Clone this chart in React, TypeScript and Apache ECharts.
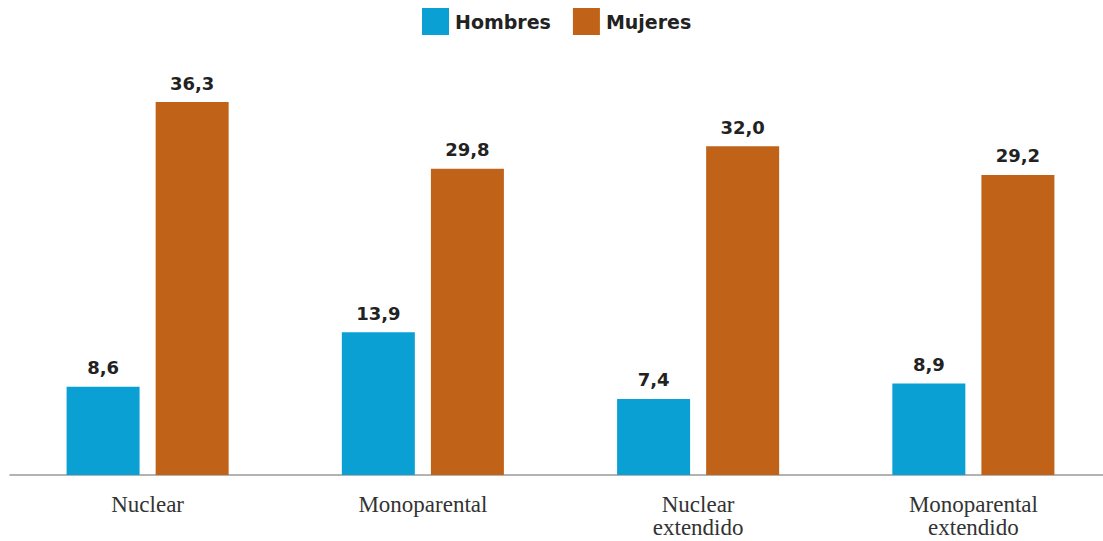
import React, { useEffect, useRef } from "react";
import * as echarts from "echarts";

// Household type categories and percentages by sex
const categories = ["Nuclear", "Monoparental", "Nuclear\nextendido", "Monoparental\nextendido"];
const hombres = [8.6, 13.9, 7.4, 8.9];
const mujeres = [36.3, 29.8, 32.0, 29.2];
const seriesNames = ["Hombres", "Mujeres"];

const BLUE = "#0aa0d3";
const ORANGE = "#c06318";
const SANS = "'DejaVu Sans', 'Noto Sans', sans-serif";
const fmt = (v: number) => v.toFixed(1).replace(".", ",");

export default function App() {
  const ref = useRef<HTMLDivElement>(null);

  useEffect(() => {
    if (!ref.current) return;
    const chart = echarts.init(ref.current, undefined, { renderer: "svg" });
    const valueLabel = {
      show: true,
      position: "top" as const,
      distance: 10,
      fontFamily: SANS,
      fontWeight: "bold" as const,
      fontSize: 18,
      color: "#222",
      formatter: (p: any) => fmt(p.value),
    };
    chart.setOption({
      animation: false,
      backgroundColor: "#fff",
      legend: {
        top: 8,
        left: 422,
        padding: 0,
        itemWidth: 27,
        itemHeight: 27,
        itemGap: 22,
        icon: "rect",
        textStyle: {
          fontFamily: SANS,
          fontWeight: "bold",
          fontSize: 19,
          color: "#222",
          padding: [0, 0, 0, 1],
        },
        data: seriesNames,
      },
      grid: { left: 10, width: 1101, top: 64, bottom: 66, outerBoundsMode: "none" },
      xAxis: {
        type: "category",
        data: categories,
        axisTick: { show: false },
        axisLine: { lineStyle: { color: "#9a9a9a", width: 1.5 } },
        axisLabel: {
          margin: 18,
          fontFamily: "'Liberation Serif', serif",
          fontSize: 23,
          lineHeight: 23,
          color: "#333",
        },
      },
      yAxis: {
        type: "value",
        min: 0,
        max: 40,
        show: false,
        splitLine: { show: false },
      },
      series: [
        {
          name: seriesNames[0],
          type: "bar",
          data: hombres,
          barWidth: 73,
          barGap: "22%",
          itemStyle: { color: BLUE },
          label: valueLabel,
        },
        {
          name: seriesNames[1],
          type: "bar",
          data: mujeres,
          barWidth: 73,
          itemStyle: { color: ORANGE },
          label: valueLabel,
        },
      ],
    });
    return () => chart.dispose();
  }, []);

  return (
    <div
      ref={ref}
      style={{ position: "fixed", left: 0, top: 0, width: 1103, height: 541 }}
    />
  );
}
